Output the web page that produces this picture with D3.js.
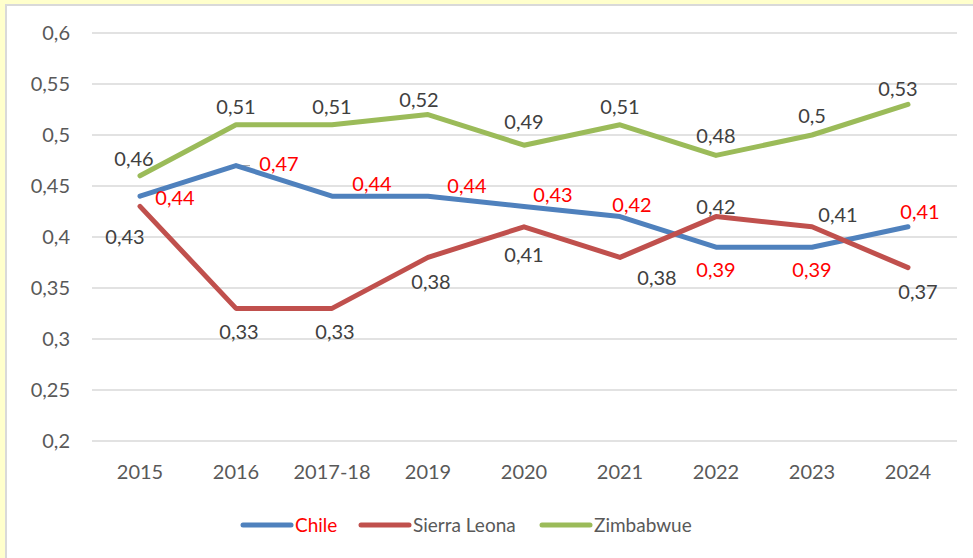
<!DOCTYPE html>
<html>
<head>
<meta charset="utf-8">
<script src="https://cdn.jsdelivr.net/npm/d3@7"></script>
<style>
  html, body { margin: 0; padding: 0; background: #ffffcc; }
  svg { display: block; }
  text { font-family: Lato, "Open Sans", sans-serif; }
</style>
</head>
<body>
<svg id="chart"></svg>
<script>
const width = 973, height = 558;

// data
const years = ['2015', '2016', '2017-18', '2019', '2020', '2021', '2022', '2023', '2024'];
const chile = [0.44, 0.47, 0.44, 0.44, 0.43, 0.42, 0.39, 0.39, 0.41];
const sierraLeona = [0.43, 0.33, 0.33, 0.38, 0.41, 0.38, 0.42, 0.41, 0.37];
const zimbabwe = [0.46, 0.51, 0.51, 0.52, 0.49, 0.51, 0.48, 0.50, 0.53];
const yTicks = [0.2, 0.25, 0.3, 0.35, 0.4, 0.45, 0.5, 0.55, 0.6];

// label placement (offsets from the point, px)
const chileDx = [35, 43, 40, 39, 29, 12, 0, 0, 12];
const chileDy = [2, -2, -12, -10, -12, -12, 23, 23, -15];
const sierraDx = [-15, 3, 3, 3, 0, 37, 0, 26, 10];
const sierraDy = [30, 23, 23, 24, 28, 20, -10, -12, 24];
const zimDx = [-6, 0, 0, -9, 0, 0, 0, 0, -10];
const zimDy = [-17, -18, -18, -15, -23, -18, -20, -19, -16];

const series = [
  {name: 'Chile', values: chile, color: '#4f81bd', labelColor: '#ff0000', legendColor: '#ff0000', dx: chileDx, dy: chileDy},
  {name: 'Sierra Leona', values: sierraLeona, color: '#c0504d', labelColor: '#404040', legendColor: '#595959', dx: sierraDx, dy: sierraDy},
  {name: 'Zimbabwue', values: zimbabwe, color: '#9bbb59', labelColor: '#404040', legendColor: '#595959', dx: zimDx, dy: zimDy}
];

const fmt = v => String(+v.toFixed(2)).replace('.', ',');
const numSize = 20;

const svg = d3.select('#chart').attr('width', width).attr('height', height);

// white chart panel
svg.append('rect')
  .attr('x', 6).attr('y', 5)
  .attr('width', width + 10).attr('height', height + 10)
  .attr('fill', '#fff')
  .attr('stroke', '#d9d9d9')
  .attr('stroke-width', 2);

const x = d3.scalePoint()
  .domain(years)
  .range([140, 908]);

const y = d3.scaleLinear()
  .domain([0.2, 0.6])
  .range([441, 33]);

// grid lines
svg.append('g')
  .selectAll('line')
  .data(yTicks)
  .join('line')
  .attr('x1', 92).attr('x2', 957)
  .attr('y1', d => y(d)).attr('y2', d => y(d))
  .attr('stroke', '#d9d9d9')
  .attr('stroke-width', 1.5);

// y axis labels
svg.append('g')
  .selectAll('text')
  .data(yTicks)
  .join('text')
  .attr('x', 70)
  .attr('y', d => y(d))
  .attr('dy', '0.36em')
  .attr('text-anchor', 'end')
  .attr('font-size', numSize)
  .attr('fill', '#595959')
  .text(fmt);

// x axis labels
svg.append('g')
  .selectAll('text')
  .data(years)
  .join('text')
  .attr('x', d => x(d))
  .attr('y', 472)
  .attr('dy', '0.36em')
  .attr('text-anchor', 'middle')
  .attr('font-size', numSize)
  .attr('fill', '#595959')
  .text(d => d);

const line = d3.line()
  .x((d, i) => x(years[i]))
  .y(d => y(d));

// leader line for Chile 2016 label
svg.append('line')
  .attr('x1', x('2016') + 2).attr('x2', x('2016') + 14)
  .attr('y1', y(chile[1])).attr('y2', y(chile[1]))
  .attr('stroke', '#a6a6a6')
  .attr('stroke-width', 1.2);

svg.append('g')
  .selectAll('path')
  .data(series)
  .join('path')
  .attr('d', d => line(d.values))
  .attr('fill', 'none')
  .attr('stroke', d => d.color)
  .attr('stroke-width', 5)
  .attr('stroke-linejoin', 'round')
  .attr('stroke-linecap', 'round');

// data labels
series.forEach(s => {
  svg.append('g')
    .selectAll('text')
    .data(s.values)
    .join('text')
    .attr('x', (d, i) => x(years[i]) + s.dx[i])
    .attr('y', (d, i) => y(d) + s.dy[i])
    .attr('dy', '0.36em')
    .attr('text-anchor', 'middle')
    .attr('font-size', numSize)
    .attr('fill', s.labelColor)
    .text(fmt);
});

// legend
const legendX = [243, 361, 542];
const legend = svg.append('g')
  .selectAll('g')
  .data(series)
  .join('g')
  .attr('transform', (d, i) => `translate(${legendX[i]},525)`);

legend.append('line')
  .attr('x1', 0).attr('x2', 48)
  .attr('stroke', d => d.color)
  .attr('stroke-width', 5)
  .attr('stroke-linecap', 'round');

legend.append('text')
  .attr('x', 52)
  .attr('dy', '0.36em')
  .attr('font-size', 19)
  .attr('fill', d => d.legendColor)
  .text(d => d.name);
</script>
</body>
</html>
